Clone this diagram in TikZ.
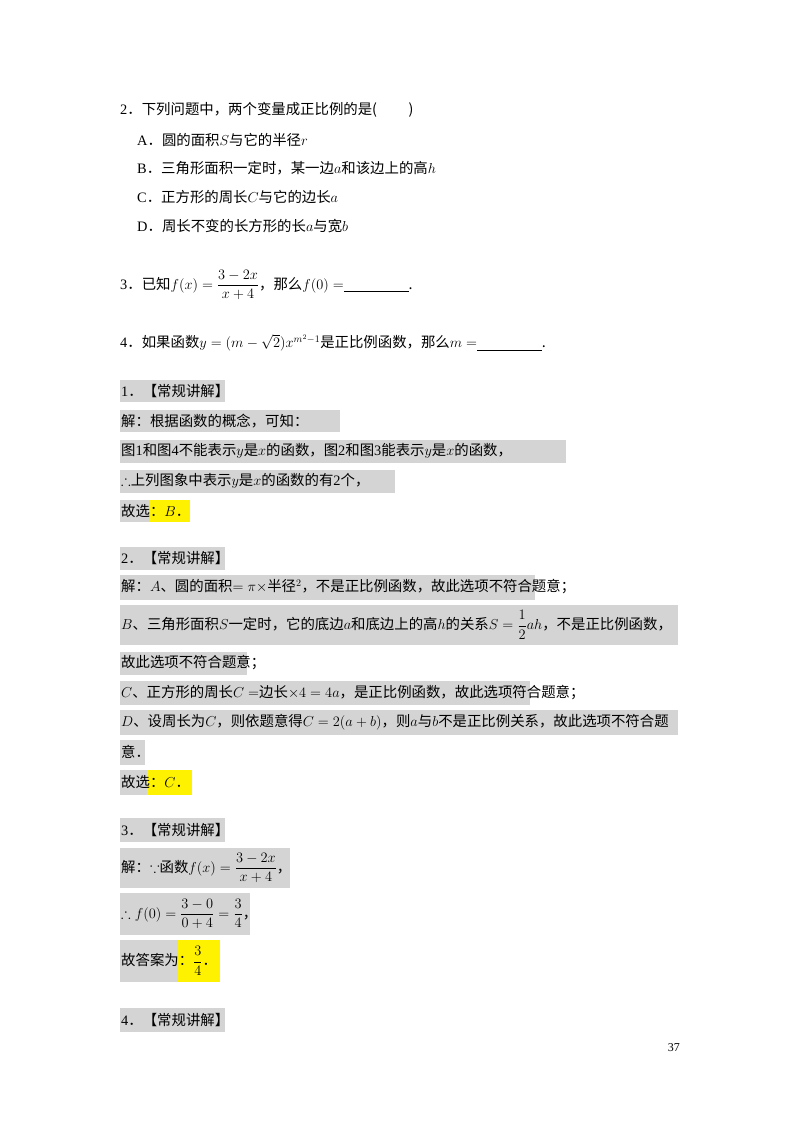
\documentclass[tikz,border=0pt]{standalone}
\usepackage{amsmath,amssymb}
\usepackage{fontspec}
\setmainfont{Noto Sans CJK SC}
\newfontfamily\tm{Liberation Serif}
\begin{document}
\begin{tikzpicture}[x=1pt,y=-1pt,
 t/.style={anchor=west,inner sep=0pt,font=\fontsize{14.4}{16}\selectfont},
 gb/.style={fill=black!17,draw=none},
 yb/.style={fill=yellow,draw=none}]
\useasboundingbox[fill=white] (0,0) rectangle (800,1132);
% questions
\node[t] (q2) at (120,110) {{\tm 2}．下列问题中，两个变量成正比例的是(\hspace{2.2em})};
\node[t] (qa) at (137,140) {{\tm A}．圆的面积$S$与它的半径$r$};
\node[t] (qb) at (137,168) {{\tm B}．三角形面积一定时，某一边$a$和该边上的高$h$};
\node[t] (qc) at (137,197) {{\tm C}．正方形的周长$C$与它的边长$a$};
\node[t] (qd) at (137,226) {{\tm D}．周长不变的长方形的长$a$与宽$b$};
\node[t] (q3) at (120,285) {{\tm 3}．已知$f(x)=\dfrac{3-2x}{x+4}$，那么$f(0)=$\underline{\hspace{4.5em}}.};
\node[t] (q4) at (120,343) {{\tm 4}．如果函数$y=(m-\sqrt2)x^{m^2-1}$是正比例函数，那么$m=$\underline{\hspace{4.5em}}.};
% section 1
\fill[gb] (120,380) rectangle (225,402);
\node[t] (s1) at (121,391) {{\tm 1}．【常规讲解】};
\fill[gb] (120,410) rectangle (340,432);
\node[t] (s1a) at (121,421) {解：根据函数的概念，可知：};
\fill[gb] (120,440) rectangle (566,463);
\node[t] (s1b) at (121,451) {图{\tm 1}和图{\tm 4}不能表示$y$是$x$的函数，图{\tm 2}和图{\tm 3}能表示$y$是$x$的函数，};
\fill[gb] (120,470) rectangle (395,493);
\node[t] (s1c) at (121,481) {$\therefore$上列图象中表示$y$是$x$的函数的有{\tm 2}个，};
\fill[gb] (120,500) rectangle (150,522);
\fill[yb] (150,500) rectangle (190,522);
\node[t] (s1d) at (121,511) {故选：$B$．};
% section 2
\fill[gb] (120,547) rectangle (225,570);
\node[t] (s2) at (121,558) {{\tm 2}．【常规讲解】};
\fill[gb] (120,575) rectangle (535,600);
\node[t] (s2a) at (121,587) {解：$A$、圆的面积$=\pi\times$半径$^2$，不是正比例函数，故此选项不符合题意；};
\fill[gb] (120,605) rectangle (678,645);
\node[t] (s2b) at (121,625) {$B$、三角形面积$S$一定时，它的底边$a$和底边上的高$h$的关系$S=\dfrac12ah$，不是正比例函数，};
\fill[gb] (120,652) rectangle (247,675);
\node[t] (s2c) at (121,663) {故此选项不符合题意；};
\fill[gb] (120,681) rectangle (530,705);
\node[t] (s2d) at (121,693) {$C$、正方形的周长$C=$边长$\times4=4a$，是正比例函数，故此选项符合题意；};
\fill[gb] (120,710) rectangle (678,735);
\node[t] (s2e) at (121,722) {$D$、设周长为$C$，则依题意得$C=2(a+b)$，则$a$与$b$不是正比例关系，故此选项不符合题};
\fill[gb] (120,740) rectangle (145,765);
\node[t] (s2f) at (121,752) {意．};
\fill[gb] (120,770) rectangle (147,795);
\fill[yb] (147,770) rectangle (192,795);
\node[t] (s2g) at (121,782) {故选：$C$．};
% section 3
\fill[gb] (120,818) rectangle (225,842);
\node[t] (s3) at (121,830) {{\tm 3}．【常规讲解】};
\fill[gb] (120,848) rectangle (290,888);
\node[t] (s3a) at (121,868) {解：$\because$函数$f(x)=\dfrac{3-2x}{x+4}$，};
\fill[gb] (120,893) rectangle (250,935);
\node[t] (s3b) at (121,914) {$\therefore f(0)=\dfrac{3-0}{0+4}=\dfrac34$，};
\fill[gb] (120,940) rectangle (178,982);
\fill[yb] (178,940) rectangle (220,982);
\node[t] (s3c) at (121,961) {故答案为：$\dfrac34$．};
\fill[gb] (120,1008) rectangle (225,1032);
\node[t] (s4) at (121,1020) {{\tm 4}．【常规讲解】};
\node[anchor=east,inner sep=0pt,font=\tm\fontsize{12}{14}\selectfont] (pg) at (680,1048) {37};
\end{tikzpicture}
\end{document}
